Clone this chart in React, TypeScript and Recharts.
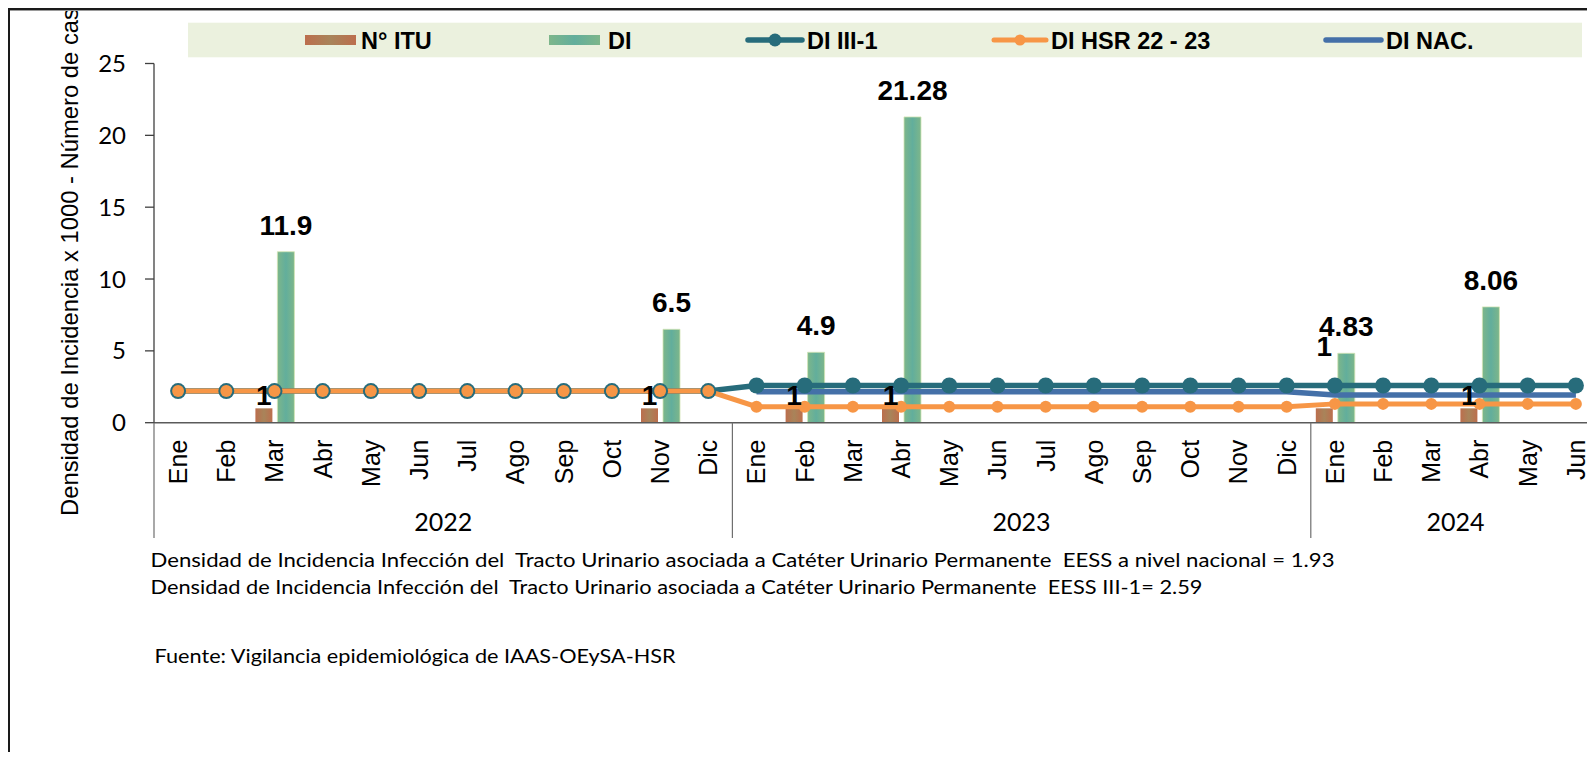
import React from "react";
import { ComposedChart, Bar, Line, XAxis, YAxis, LabelList, Legend } from "recharts";

// ---------- data ----------
const monthLabels = [
  "Ene", "Feb", "Mar", "Abr", "May", "Jun", "Jul", "Ago", "Sep", "Oct", "Nov", "Dic",
  "Ene", "Feb", "Mar", "Abr", "May", "Jun", "Jul", "Ago", "Sep", "Oct", "Nov", "Dic",
  "Ene", "Feb", "Mar", "Abr", "May", "Jun",
];
const yearOfCategory = [
  2022, 2022, 2022, 2022, 2022, 2022, 2022, 2022, 2022, 2022, 2022, 2022,
  2023, 2023, 2023, 2023, 2023, 2023, 2023, 2023, 2023, 2023, 2023, 2023,
  2024, 2024, 2024, 2024, 2024, 2024,
];
const yearLabels = ["2022", "2023", "2024"];

const ituValues = [
  null, null, 1, null, null, null, null, null, null, null, 1, null,
  null, 1, null, 1, null, null, null, null, null, null, null, null,
  1, null, null, 1, null, null,
];
const diValues = [
  null, null, 11.9, null, null, null, null, null, null, null, 6.5, null,
  null, 4.9, null, 21.28, null, null, null, null, null, null, null, null,
  4.83, null, null, 8.06, null, null,
];
const diIII1Values = [
  2.2, 2.2, 2.2, 2.2, 2.2, 2.2, 2.2, 2.2, 2.2, 2.2, 2.2, 2.2,
  2.59, 2.59, 2.59, 2.59, 2.59, 2.59, 2.59, 2.59, 2.59, 2.59, 2.59, 2.59,
  2.59, 2.59, 2.59, 2.59, 2.59, 2.59,
];
const diHsrValues = [
  2.2, 2.2, 2.2, 2.2, 2.2, 2.2, 2.2, 2.2, 2.2, 2.2, 2.2, 2.2,
  1.11, 1.11, 1.11, 1.11, 1.11, 1.11, 1.11, 1.11, 1.11, 1.11, 1.11, 1.11,
  1.31, 1.31, 1.31, 1.31, 1.31, 1.31,
];
const diNacValues = [
  null, null, null, null, null, null, null, null, null, null, null, null,
  2.15, 2.15, 2.15, 2.15, 2.15, 2.15, 2.15, 2.15, 2.15, 2.15, 2.15, 2.15,
  1.93, 1.93, 1.93, 1.93, 1.93, 1.93,
];
const yTicks = [0, 5, 10, 15, 20, 25];

const seriesNames = {
  itu: "N° ITU",
  di: "DI",
  iii1: "DI III-1",
  hsr: "DI HSR 22 - 23",
  nac: "DI NAC.",
};
const yAxisTitle = "Densidad de Incidencia x 1000 - Número de casos";
const footnoteLines = [
  "Densidad de Incidencia Infección del  Tracto Urinario asociada a Catéter Urinario Permanente  EESS a nivel nacional = 1.93",
  "Densidad de Incidencia Infección del  Tracto Urinario asociada a Catéter Urinario Permanente  EESS III-1= 2.59",
];
const sourceText = "Fuente: Vigilancia epidemiológica de IAAS-OEySA-HSR";

const data = monthLabels.map((m, i) => ({
  key: `${m}-${yearOfCategory[i]}`,
  month: m,
  year: yearOfCategory[i],
  itu: ituValues[i],
  di: diValues[i],
  iii1: diIII1Values[i],
  hsr: diHsrValues[i],
  nac: diNacValues[i],
}));

// ---------- styling / layout ----------
const W = 1592;
const H = 744;
const M = { top: 55.5, right: 0, bottom: 0, left: 86 };
const Y_AXIS_W = 60;
const PLOT_LEFT = M.left + Y_AXIS_W;
const PLOT_W = W - PLOT_LEFT - M.right;
const BAND = PLOT_W / data.length;
const AXIS_Y = 414.7;
const X_AXIS_H = H - AXIS_Y - M.bottom;

const TEAL = "#276C7B";
const ORANGE = "#F79646";
const BLUE = "#4470A8";
const ARIAL = "'Liberation Sans', Arial, sans-serif";
const CAL = "Lato, 'Open Sans', sans-serif";

// label nudge (px) for the "1" above the ITU bar of a given category
const ituLabelNudge: Record<number, number> = { 24: -49 };

const MonthTick = (props: any) => {
  const { x, y, index } = props;
  const d = data[index];
  if (!d) return null;
  const ty = y + 17;
  const els: any[] = [];
  els.push(
    <text
      key="m"
      x={x}
      y={ty}
      transform={`rotate(-90, ${x}, ${ty})`}
      textAnchor="end"
      dy="0.36em"
      fontFamily={ARIAL}
      fontSize={25}
      fill="#000"
    >
      {d.month}
    </text>
  );
  const prev = data[index - 1];
  if (!prev || prev.year !== d.year) {
    els.push(
      <line key="s" x1={x - BAND / 2} x2={x - BAND / 2} y1={y} y2={530} stroke="#6f6f6f" strokeWidth={1.2} />
    );
  }
  const groupIdx = data.map((r, i) => (r.year === d.year ? i : -1)).filter((i) => i >= 0);
  const mid = (groupIdx[0] + groupIdx[groupIdx.length - 1]) / 2;
  if (Math.floor(mid) === index) {
    const yl = yearLabels[yearLabels.indexOf(String(d.year))];
    els.push(
      <text key="y" x={x + (mid - index) * BAND} y={523} textAnchor="middle" fontFamily={CAL} fontSize={25} fill="#000">
        {yl}
      </text>
    );
  }
  return <g>{els}</g>;
};

const ituLabel = (props: any) => {
  const { x, y, width, value } = props;
  if (value == null) return null;
  const cat = Math.floor((Number(x) + Number(width) / 2 - PLOT_LEFT) / BAND);
  const nudge = ituLabelNudge[cat] || 0;
  return (
    <text x={x + width / 2} y={y - 3 + nudge} textAnchor="middle" fontFamily={ARIAL} fontWeight="bold" fontSize={28} fill="#000">
      {value}
    </text>
  );
};

const diLabel = (props: any) => {
  const { x, y, width, value } = props;
  if (value == null) return null;
  return (
    <text x={x + width / 2} y={y - 17} textAnchor="middle" fontFamily={ARIAL} fontWeight="bold" fontSize={28} fill="#000">
      {value}
    </text>
  );
};

const LegendBox = () => {
  const cy = 32;
  const tf = { fontFamily: ARIAL, fontWeight: 700 as any, fontSize: 23.5, fill: "#000" };
  return (
    <svg width={1587} height={60} style={{ display: "block" }}>
      <defs>
        <linearGradient id="lgItu" x1="0" x2="1" y1="0" y2="0">
          <stop offset="0" stopColor="#BC6E4D" />
          <stop offset="0.5" stopColor="#A8845A" />
          <stop offset="1" stopColor="#BC6E4D" />
        </linearGradient>
        <linearGradient id="lgDi" x1="0" x2="1" y1="0" y2="0">
          <stop offset="0" stopColor="#7DB68A" />
          <stop offset="0.5" stopColor="#62AE9C" />
          <stop offset="1" stopColor="#7DB68A" />
        </linearGradient>
      </defs>
      <rect x={180} y={14.7} width={1394} height={34.6} fill="#EBF1DE" />
      <rect x={297} y={cy - 5} width={51} height={10} fill="url(#lgItu)" />
      <text x={353} y={cy + 8.5} {...tf}>{seriesNames.itu}</text>
      <rect x={541} y={cy - 5} width={51} height={10} fill="url(#lgDi)" />
      <text x={600} y={cy + 8.5} {...tf}>{seriesNames.di}</text>
      <line x1={740} x2={794} y1={cy} y2={cy} stroke={TEAL} strokeWidth={5.5} strokeLinecap="round" />
      <circle cx={767} cy={cy} r={6.5} fill={TEAL} />
      <text x={799} y={cy + 8.5} {...tf}>{seriesNames.iii1}</text>
      <line x1={986} x2={1038} y1={cy} y2={cy} stroke={ORANGE} strokeWidth={5} strokeLinecap="round" />
      <circle cx={1012} cy={cy} r={5.5} fill={ORANGE} />
      <text x={1043} y={cy + 8.5} {...tf}>{seriesNames.hsr}</text>
      <line x1={1318} x2={1373} y1={cy} y2={cy} stroke={BLUE} strokeWidth={5.5} strokeLinecap="round" />
      <text x={1378} y={cy + 8.5} {...tf}>{seriesNames.nac}</text>
    </svg>
  );
};

const YTitle = () => {
  const x = 70;
  const y = 508;
  return (
    <text x={x} y={y} transform={`rotate(-90, ${x}, ${y})`} textAnchor="start" fontFamily={ARIAL} fontSize={23.8} fill="#000">
      {yAxisTitle}
    </text>
  );
};

export default function App() {
  return (
    <div style={{ position: "relative", width: 1587, height: 744, overflow: "hidden", background: "#fff" }}>
      <style>{"html,body{overflow:hidden}"}</style>
      <ComposedChart width={W} height={H} data={data} margin={M} barGap={5}>
        <defs>
          <linearGradient id="gItu" x1="0" x2="1" y1="0" y2="0">
            <stop offset="0" stopColor="#BC6E4D" />
            <stop offset="0.5" stopColor="#A8845A" />
            <stop offset="1" stopColor="#BC6E4D" />
          </linearGradient>
          <linearGradient id="gDi" x1="0" x2="1" y1="0" y2="0">
            <stop offset="0" stopColor="#7DB68A" />
            <stop offset="0.5" stopColor="#62AE9C" />
            <stop offset="1" stopColor="#7DB68A" />
          </linearGradient>
        </defs>
        <XAxis
          dataKey="key"
          height={X_AXIS_H}
          interval={0}
          tickLine={false}
          tickSize={0}
          tickMargin={0}
          axisLine={{ stroke: "#5a5a5a", strokeWidth: 1.5 }}
          tick={<MonthTick />}
        />
        <YAxis
          width={Y_AXIS_W}
          domain={[0, 25]}
          ticks={yTicks}
          interval={0}
          tickSize={9}
          tickMargin={19}
          axisLine={{ stroke: "#404040", strokeWidth: 1.3 }}
          tickLine={{ stroke: "#404040", strokeWidth: 1.3 }}
          tick={{ fontFamily: CAL, fontSize: 24, fill: "#000" }}
          label={<YTitle />}
        />
        <Legend
          layout="horizontal"
          verticalAlign="middle"
          align="center"
          wrapperStyle={{ position: "absolute", left: 0, top: 0, width: 1587, height: 60 }}
          content={() => <LegendBox />}
        />
        <Bar dataKey="itu" name={seriesNames.itu} barSize={17} fill="url(#gItu)" isAnimationActive={false}>
          <LabelList dataKey="itu" content={ituLabel} />
        </Bar>
        <Bar dataKey="di" name={seriesNames.di} barSize={17} fill="url(#gDi)" stroke="#D2E4B4" strokeWidth={0.8} isAnimationActive={false}>
          <LabelList dataKey="di" content={diLabel} />
        </Bar>
        <Line
          dataKey="nac"
          name={seriesNames.nac}
          type="linear"
          stroke={BLUE}
          strokeWidth={5.5}
          dot={false}
          activeDot={false}
          connectNulls={false}
          isAnimationActive={false}
        />
        <Line
          dataKey="iii1"
          name={seriesNames.iii1}
          type="linear"
          stroke={TEAL}
          strokeWidth={5.5}
          dot={{ r: 8, fill: TEAL, stroke: TEAL, strokeWidth: 0 }}
          activeDot={false}
          isAnimationActive={false}
        />
        <Line
          dataKey="hsr"
          name={seriesNames.hsr}
          type="linear"
          stroke={ORANGE}
          strokeWidth={5}
          dot={{ r: 6, fill: ORANGE, stroke: ORANGE, strokeWidth: 0 }}
          activeDot={false}
          isAnimationActive={false}
        />
      </ComposedChart>
      <svg width={1587} height={744} style={{ position: "absolute", left: 0, top: 0, pointerEvents: "none" }}>
        <text x={142.5} y={558.7} fontFamily={CAL} fontSize={19.5} fill="#000" textLength={1184} lengthAdjust="spacingAndGlyphs" style={{ whiteSpace: "pre" }}>
          {footnoteLines[0]}
        </text>
        <text x={142.5} y={586} fontFamily={CAL} fontSize={19.5} fill="#000" textLength={1052} lengthAdjust="spacingAndGlyphs" style={{ whiteSpace: "pre" }}>
          {footnoteLines[1]}
        </text>
        <text x={146.6} y={655.3} fontFamily={CAL} fontSize={19.5} fill="#000" textLength={521} lengthAdjust="spacingAndGlyphs" style={{ whiteSpace: "pre" }}>
          {sourceText}
        </text>
      </svg>
      <div style={{ position: "absolute", left: 0, top: 0, width: 1587, height: 2, background: "#1a1a1a" }} />
      <div style={{ position: "absolute", left: 0, top: 2, width: 1587, height: 1, background: "#9a9a9a" }} />
      <div style={{ position: "absolute", left: 0, top: 0, width: 1.5, height: 744, background: "#1a1a1a" }} />
    </div>
  );
}
